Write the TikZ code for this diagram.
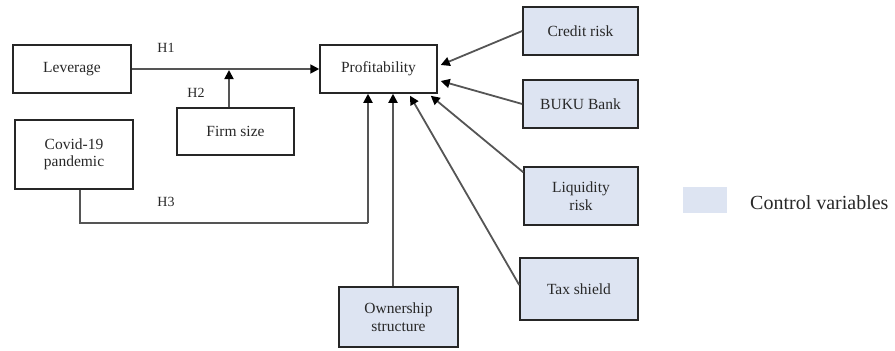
\documentclass[tikz,border=0pt]{standalone}
\usepackage{fontspec}
\setmainfont{Liberation Serif}
\usetikzlibrary{arrows.meta}
\definecolor{ctrl}{RGB}{221,228,242}
\definecolor{txt}{RGB}{40,40,40}
\definecolor{ln}{RGB}{85,85,85}
\tikzset{
  box/.style={draw=black!85, line width=1.5pt, minimum width=#1, text=txt,
     font=\fontsize{15.5}{17.5}\selectfont, align=center, inner sep=1pt},
  ctrlbox/.style={box=#1, fill=ctrl},
  arr/.style={draw=ln, line width=1.8pt, -{Triangle[length=9pt,width=9pt,fill=black,color=black]}},
  plain/.style={draw=ln, line width=1.8pt},
  lbl/.style={text=txt, font=\fontsize{14}{16}\selectfont, inner sep=0pt}
}
\begin{document}
\begin{tikzpicture}[x=1pt,y=-1pt]
\useasboundingbox (0,0) rectangle (895,351);
% nodes
\node[box=118pt, minimum height=48pt] (lev) at (72,69) {Leverage};
\node[box=117pt, minimum height=48pt] (prof) at (378.5,69) {Profitability};
\node[box=117pt, minimum height=47pt] (fs) at (235.5,131.5) {Firm size};
\node[box=118pt, minimum height=69pt] (cov) at (74,154.5) {Covid-19\\pandemic};
\node[ctrlbox=115pt, minimum height=48pt] (cred) at (580.5,31) {Credit risk};
\node[ctrlbox=115pt, minimum height=48pt] (buku) at (580.5,104) {BUKU Bank};
\node[ctrlbox=114pt, minimum height=58pt] (liq) at (581,196) {Liquidity\\risk};
\node[ctrlbox=118pt, minimum height=62pt] (tax) at (579,289) {Tax shield};
\node[ctrlbox=119pt, minimum height=60pt] (own) at (398.5,317) {Ownership\\structure};
% legend
\node[fill=ctrl, minimum width=44pt, minimum height=26pt, inner sep=0pt] (leg) at (705,200) {};
\node[anchor=west, text=txt, font=\fontsize{20}{22}\selectfont, inner sep=0pt] (legt) at (750,203) {Control variables};
% labels
\node[lbl] (h1) at (166,48) {H1};
\node[lbl] (h2) at (196,93) {H2};
\node[lbl] (h3) at (166,202) {H3};
% connectors
\draw[arr] (lev.east) -- (prof.west);
\coordinate (fsm) at (229,70);
\draw[arr] ([xshift=-6.5pt]fs.north) -- (fsm);
\coordinate (h3c) at (368,223);
\draw[plain] ([xshift=6pt]cov.south) |- (h3c);
\draw[arr] (h3c) -- (h3c |- prof.south);
\draw[arr] ([xshift=-5.5pt]own.north) -- ([xshift=-5.5pt]own.north |- prof.south);
\draw[arr] ([yshift=4pt]tax.west) -- ([xshift=31.5pt,yshift=-2pt]prof.south);
\draw[arr] ([yshift=-6pt]liq.north west) -- ([xshift=-7pt,yshift=-2pt]prof.south east);
\draw[arr] (cred.west) -- ([xshift=3pt,yshift=4pt]prof.east);
\draw[arr] (buku.west) -- ([xshift=3pt,yshift=-12pt]prof.east);
\end{tikzpicture}
\end{document}
